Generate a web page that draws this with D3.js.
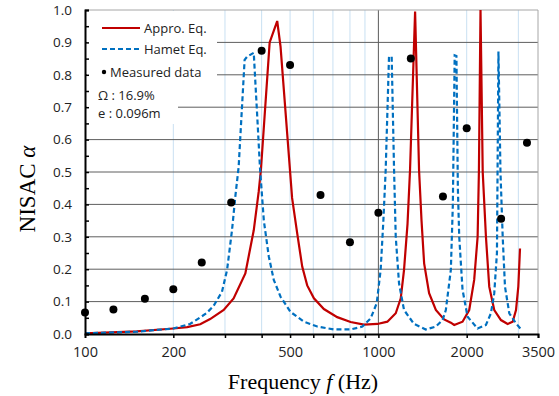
<!DOCTYPE html>
<html>
<head>
<meta charset="utf-8">
<script src="https://cdnjs.cloudflare.com/ajax/libs/d3/7.8.5/d3.min.js"></script>
<style>
  body { margin: 0; background: #fff; }
  text { font-family: "Open Sans", sans-serif; fill: #222; }
</style>
</head>
<body>
<div id="chart"></div>
<script>
// [frequency Hz, absorption]
const approEq = [[100,0.002],[150,0.008],[200,0.017],[223,0.021],[247,0.03],[267,0.046],[297,0.074],
  [321,0.11],[352,0.187],[376,0.32],[391,0.44],[398,0.51],[426,0.9],[452,0.966],[464,0.887],
  [508,0.42],[529,0.31],[550,0.208],[572,0.15],[603,0.11],[652,0.077],[724,0.052],[804,0.037],
  [893,0.029],[992,0.031],[1073,0.038],[1146,0.064],[1192,0.11],[1223,0.198],[1257,0.34],
  [1282,0.506],[1334,0.995],[1376,0.506],[1403,0.35],[1432,0.218],[1489,0.126],[1570,0.074],
  [1675,0.045],[1766,0.035],[1813,0.028],[1936,0.038],[2040,0.074],[2121,0.167],[2179,0.3],
  [2201,0.5],[2229,1.0],[2268,0.5],[2326,0.3],[2387,0.146],[2483,0.074],[2617,0.043],
  [2759,0.031],[2870,0.038],[2945,0.074],[2999,0.146],[3039,0.264]];

const hametEq = [[100,0.002],[150,0.007],[200,0.017],[228,0.031],[247,0.051],[260,0.065],[274,0.086],
  [293,0.13],[305,0.198],[317,0.32],[325,0.42],[334,0.516],[350,0.846],[357,0.856],[376,0.868],
  [386,0.68],[395,0.51],[407,0.35],[423,0.24],[440,0.167],[464,0.115],[502,0.068],[557,0.038],
  [619,0.023],[705,0.014],[804,0.014],[882,0.023],[941,0.048],[987,0.095],[1018,0.198],
  [1040,0.35],[1059,0.506],[1087,0.856],[1110,0.856],[1131,0.506],[1146,0.3],[1176,0.156],
  [1223,0.074],[1323,0.031],[1450,0.014],[1570,0.023],[1655,0.043],[1698,0.074],[1766,0.198],
  [1794,0.4],[1820,0.86],[1845,0.858],[1866,0.45],[1886,0.3],[1936,0.136],[2014,0.053],
  [2179,0.017],[2326,0.028],[2419,0.064],[2483,0.126],[2536,0.25],[2566,0.872],[2607,0.5],
  [2653,0.3],[2701,0.146],[2794,0.064],[2945,0.033],[3046,0.017]];

const measured = [[100,0.066],[125,0.076],[160,0.109],[200,0.138],[250,0.221],[315,0.406],
  [400,0.874],[500,0.83],[635,0.429],[800,0.283],[1000,0.374],[1290,0.85],[1660,0.424],
  [2000,0.635],[2620,0.356],[3210,0.59]];

const xTickLabels = [100, 200, 500, 1000, 2000, 3500];
const xMinor = [200, 300, 400, 500, 600, 700, 800, 900, 2000, 3000];
const xTickMarks = [200, 300, 400, 500, 600, 700, 800, 900, 1000, 2000, 3000, 3500];
const yTickLabels = [0, 0.1, 0.2, 0.3, 0.4, 0.5, 0.6, 0.7, 0.8, 0.9, 1.0];
const yMinorTicks = d3.range(0, 1.001, 0.05);

const width = 559, height = 396;
const svg = d3.select("#chart").append("svg").attr("width", width).attr("height", height);

const x = d3.scaleLog().domain([100, 3500]).range([85, 538]);
const y = d3.scaleLinear().domain([0, 1]).range([334, 10]);

// grid
svg.append("g").selectAll("line").data(xMinor).join("line")
  .attr("x1", d => x(d)).attr("x2", d => x(d))
  .attr("y1", y(1)).attr("y2", y(0))
  .attr("stroke", "#c9e0f2").attr("stroke-width", 1);
svg.append("line")
  .attr("x1", x(1000)).attr("x2", x(1000)).attr("y1", y(1)).attr("y2", y(0))
  .attr("stroke", "#5a5a5a");
svg.append("g").selectAll("line").data(yTickLabels.filter(d => d > 0 && d < 1)).join("line")
  .attr("x1", x(100)).attr("x2", x(3500))
  .attr("y1", d => y(d)).attr("y2", d => y(d))
  .attr("stroke", "#5e5e5e").attr("stroke-width", 1);
// plot border (top, right)
svg.append("path")
  .attr("d", `M${x(100)},${y(1)}H${x(3500)}V${y(0)}`)
  .attr("fill", "none").attr("stroke", "#a6a6a6");

// legend / note boxes
svg.append("rect").attr("x", 87).attr("y", 11).attr("width", 130).attr("height", 77).attr("fill", "#fff");
svg.append("rect").attr("x", 87).attr("y", 88).attr("width", 91).attr("height", 36).attr("fill", "#fff");

const line = d3.line().x(d => x(d[0])).y(d => y(d[1]));

svg.append("path").datum(approEq)
  .attr("d", line).attr("fill", "none")
  .attr("stroke", "#c00000").attr("stroke-width", 2.2);

svg.append("path").datum(hametEq)
  .attr("d", line).attr("fill", "none")
  .attr("stroke", "#0070c0").attr("stroke-width", 2.2)
  .attr("stroke-dasharray", "5,3");

svg.append("g").selectAll("circle").data(measured).join("circle")
  .attr("cx", d => x(d[0])).attr("cy", d => y(d[1])).attr("r", 4)
  .attr("fill", "#000");

// axes
const yMinor = svg.append("g").attr("transform", `translate(${x(100)},0)`)
  .call(d3.axisLeft(y).tickValues(yMinorTicks).tickSize(-4).tickFormat(""));
yMinor.select(".domain").attr("stroke", "#000").attr("stroke-width", 2);
yMinor.selectAll(".tick line").attr("stroke", "#000").attr("stroke-width", 1.5);

const yLab = svg.append("g").attr("transform", `translate(${x(100)},0)`)
  .call(d3.axisLeft(y).tickValues(yTickLabels).tickSize(0).tickPadding(13).tickFormat(d3.format(".1f")));
yLab.select(".domain").remove();
yLab.selectAll("text").attr("font-size", 13.5).attr("font-family", "Open Sans, sans-serif").attr("fill", "#262626");

const xMinorAxis = svg.append("g").attr("transform", `translate(0,${y(0)})`)
  .call(d3.axisBottom(x).tickValues(xTickMarks).tickSize(4).tickFormat(""));
xMinorAxis.select(".domain").attr("stroke", "#000").attr("stroke-width", 2);
xMinorAxis.selectAll(".tick line").attr("stroke", "#000").attr("stroke-width", 1.5);

const xLab = svg.append("g").attr("transform", `translate(0,${y(0)})`)
  .call(d3.axisBottom(x).tickValues(xTickLabels).tickSize(0).tickPadding(13).tickFormat(d => d));
xLab.select(".domain").remove();
xLab.selectAll("text").attr("font-size", 14.5).attr("font-family", "Open Sans, sans-serif").attr("fill", "#262626");

// axis titles
const yTitle = svg.append("text")
  .attr("transform", "translate(35,189) rotate(-90)")
  .attr("text-anchor", "middle")
  .style("font-family", "'Liberation Serif', serif").style("font-size", "23px").style("fill", "#000");
yTitle.append("tspan").text("NISAC ");
yTitle.append("tspan").style("font-style", "italic").text("α");

const xTitle = svg.append("text")
  .attr("x", 303).attr("y", 389)
  .attr("text-anchor", "middle")
  .style("font-family", "'Liberation Serif', serif").style("font-size", "22px").style("fill", "#000");
xTitle.append("tspan").text("Frequency ");
xTitle.append("tspan").style("font-style", "italic").text("f");
xTitle.append("tspan").text(" (Hz)");

// legend
const lg = svg.append("g");
lg.append("line").attr("x1", 102).attr("x2", 140).attr("y1", 28).attr("y2", 28)
  .attr("stroke", "#c00000").attr("stroke-width", 2);
lg.append("text").attr("x", 144).attr("y", 33).attr("font-size", 13).text("Appro. Eq.");
lg.append("line").attr("x1", 102).attr("x2", 140).attr("y1", 49).attr("y2", 49)
  .attr("stroke", "#0070c0").attr("stroke-width", 2).attr("stroke-dasharray", "5,3");
lg.append("text").attr("x", 144).attr("y", 54).attr("font-size", 13).text("Hamet Eq.");
lg.append("circle").attr("cx", 104).attr("cy", 72).attr("r", 2.2).attr("fill", "#000");
lg.append("text").attr("x", 110).attr("y", 77).attr("font-size", 13).text("Measured data");
lg.append("text").attr("x", 98).attr("y", 100).attr("font-size", 13).text("Ω : 16.9%");
lg.append("text").attr("x", 98).attr("y", 118).attr("font-size", 13).text("e : 0.096m");
</script>
</body>
</html>
